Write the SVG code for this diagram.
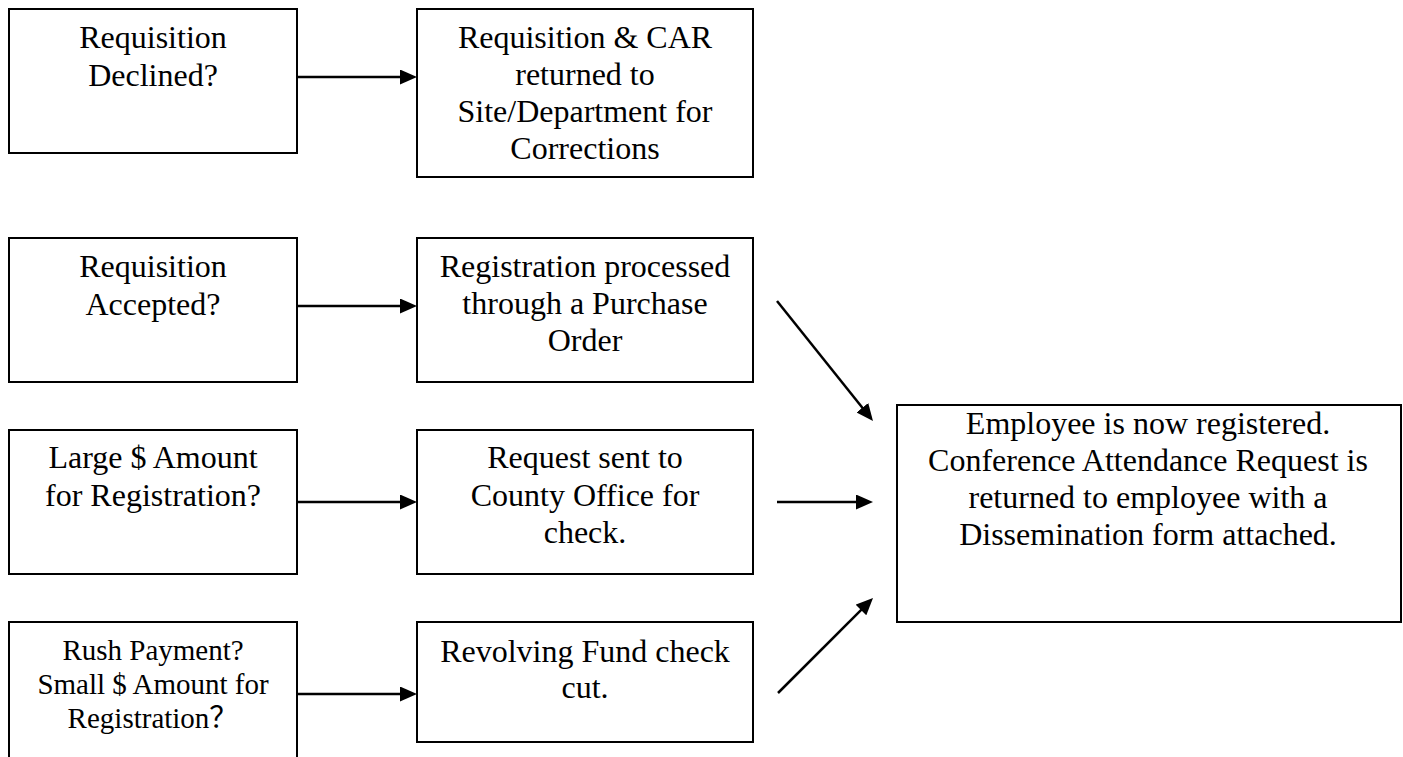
<svg xmlns="http://www.w3.org/2000/svg" width="1403" height="757" viewBox="0 0 1403 757">
<style>
.box{fill:#fff;stroke:#000;stroke-width:2}
.t{font-family:"Liberation Serif","Times New Roman",serif;font-size:32px;fill:#000;text-anchor:middle}
.s{font-family:"Liberation Serif","Times New Roman","Noto Sans CJK SC",serif;font-size:29px;fill:#000;text-anchor:middle}
.c{stroke:#000;stroke-width:2.5;fill:none;marker-end:url(#ah)}
</style>
<defs>
<marker id="ah" viewBox="0 -7.5 17 15" markerWidth="17" markerHeight="15" refX="1" refY="0" orient="auto" markerUnits="userSpaceOnUse">
<path d="M0,-7.5 L17,0 L0,7.5 z" fill="#000"/>
</marker>
</defs>
<rect width="1403" height="757" fill="#fff"/>
<g id="n1"><rect class="box" x="9" y="9" width="288" height="144"/>
<text class="t" x="153" y="48">Requisition</text><text class="t" x="153" y="86">Declined?</text></g>
<g id="n2"><rect class="box" x="417" y="9" width="336" height="168"/>
<text class="t" x="585" y="48">Requisition &amp; CAR</text><text class="t" x="585" y="85">returned to</text><text class="t" x="585" y="122">Site/Department for</text><text class="t" x="585" y="159">Corrections</text></g>
<g id="n3"><rect class="box" x="9" y="238" width="288" height="144"/>
<text class="t" x="153" y="277">Requisition</text><text class="t" x="153" y="315">Accepted?</text></g>
<g id="n4"><rect class="box" x="417" y="238" width="336" height="144"/>
<text class="t" x="585" y="277">Registration processed</text><text class="t" x="585" y="314">through a Purchase</text><text class="t" x="585" y="351">Order</text></g>
<g id="n5"><rect class="box" x="9" y="430" width="288" height="144"/>
<text class="t" x="153" y="468">Large $ Amount</text><text class="t" x="153" y="506">for Registration?</text></g>
<g id="n6"><rect class="box" x="417" y="430" width="336" height="144"/>
<text class="t" x="585" y="468">Request sent to</text><text class="t" x="585" y="506">County Office for</text><text class="t" x="585" y="543">check.</text></g>
<g id="n7"><rect class="box" x="9" y="622" width="288" height="160"/>
<text class="s" x="153" y="660">Rush Payment?</text><text class="s" x="153" y="694">Small $ Amount for</text><text class="s" x="153" y="728">Registration？</text></g>
<g id="n8"><rect class="box" x="417" y="622" width="336" height="120"/>
<text class="t" x="585" y="662">Revolving Fund check</text><text class="t" x="585" y="698">cut.</text></g>
<g id="n9"><rect class="box" x="897" y="405" width="504" height="217"/>
<text class="t" x="1148" y="434">Employee is now registered.</text><text class="t" x="1148" y="471">Conference Attendance Request is</text><text class="t" x="1148" y="508">returned to employee with a</text><text class="t" x="1148" y="545">Dissemination form attached.</text></g>
<g id="connectors">
<line class="c" x1="297" y1="77" x2="401" y2="77"/>
<line class="c" x1="297" y1="306" x2="401" y2="306"/>
<line class="c" x1="297" y1="502" x2="401" y2="502"/>
<line class="c" x1="297" y1="694" x2="401" y2="694"/>
<line class="c" x1="777" y1="301" x2="863" y2="408.5"/>
<line class="c" x1="777" y1="502" x2="857" y2="502"/>
<line class="c" x1="778" y1="693" x2="861.7" y2="609.3"/>
</g>
</svg>
